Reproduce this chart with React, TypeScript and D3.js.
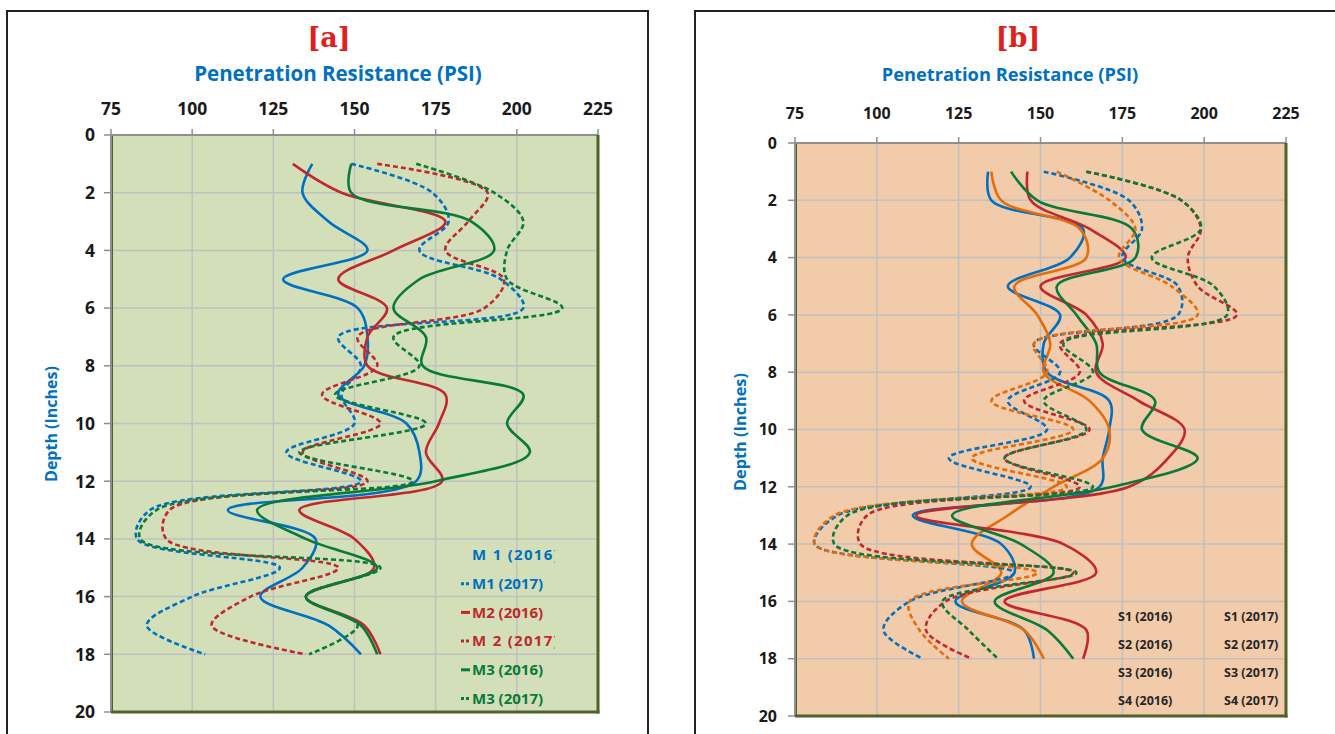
import React from 'react';
import * as d3 from 'd3';

// depth in inches, one reading per inch
const depths = [1, 2, 3, 4, 5, 6, 7, 8, 9, 10, 11, 12, 13, 14, 15, 16, 17, 18];
const xTicks = [75, 100, 125, 150, 175, 200, 225];
const yTicks = [0, 2, 4, 6, 8, 10, 12, 14, 16, 18, 20];

// panel [a]
const m1_2016 = [137, 134, 142, 154, 128, 151, 154, 153, 145, 166, 170, 169, 111, 138, 134, 121, 142, 152];
const m1_2017 = [149, 174, 179, 170, 195, 202, 145, 152, 146, 150, 129, 152, 87, 83, 127, 100, 86, 104];
const m2_2016 = [131, 146, 178, 162, 145, 160, 154, 154, 178, 176, 172, 177, 133, 150, 156, 135, 153, 158];
const m2_2017 = [157, 191, 185, 178, 196, 190, 151, 157, 140, 158, 134, 154, 93, 92, 145, 118, 106, 135];
const m3_2016 = [149, 149, 186, 193, 170, 162, 172, 171, 202, 197, 204, 175, 120, 135, 157, 135, 152, 157];
const m3_2017 = [169, 193, 202, 197, 197, 214, 162, 170, 144, 172, 133, 168, 89, 84, 158, 135, 151, 136];

// panel [b]
const s1_2016 = [134, 135, 163, 159, 140, 156, 151, 152, 171, 171, 169, 168, 111, 138, 142, 124, 145, 148];
const s2_2016 = [135, 138, 162, 164, 142, 149, 153, 151, 165, 171, 169, 154, 140, 129, 138, 126, 145, 151];
const s3_2016 = [146, 147, 165, 176, 150, 164, 169, 167, 180, 194, 189, 177, 112, 157, 167, 139, 164, 163];
const s4_2016 = [141, 149, 178, 179, 155, 161, 167, 168, 185, 181, 198, 172, 123, 144, 154, 136, 152, 160];
const s1_2017 = [151, 177, 181, 175, 192, 192, 148, 156, 140, 152, 122, 147, 88, 81, 142, 110, 102, 114];
const s2_2017 = [155, 171, 179, 174, 190, 198, 148, 152, 135, 160, 129, 158, 87, 81, 149, 110, 113, 122];
const s3_2017 = [164, 193, 199, 195, 198, 210, 156, 162, 145, 165, 139, 162, 97, 95, 160, 121, 115, 129];
const s4_2017 = [164, 193, 199, 184, 203, 207, 157, 166, 151, 164, 139, 166, 91, 87, 161, 120, 128, 137];

const legendA = ['M 1 (2016)', 'M1 (2017)', 'M2 (2016)', 'M 2 (2017)', 'M3 (2016)', 'M3 (2017)'];
const legendB2016 = ['S1 (2016)', 'S2 (2016)', 'S3 (2016)', 'S4 (2016)'];
const legendB2017 = ['S1 (2017)', 'S2 (2017)', 'S3 (2017)', 'S4 (2017)'];

const BLUE = '#0070c0';
const RED = '#c0282d';
const GREEN = '#0a7a38';
const ORANGE = '#e46c0a';
const FONT = '"Open Sans", Lato, sans-serif';

type Series = { values: number[]; color: string; dashed: boolean };

const seriesA: Series[] = [
  { values: m1_2016, color: BLUE, dashed: false },
  { values: m1_2017, color: BLUE, dashed: true },
  { values: m2_2016, color: RED, dashed: false },
  { values: m2_2017, color: RED, dashed: true },
  { values: m3_2016, color: GREEN, dashed: false },
  { values: m3_2017, color: GREEN, dashed: true },
];

const seriesB: Series[] = [
  { values: s1_2016, color: BLUE, dashed: false },
  { values: s2_2016, color: ORANGE, dashed: false },
  { values: s3_2016, color: RED, dashed: false },
  { values: s4_2016, color: GREEN, dashed: false },
  { values: s1_2017, color: BLUE, dashed: true },
  { values: s2_2017, color: ORANGE, dashed: true },
  { values: s3_2017, color: RED, dashed: true },
  { values: s4_2017, color: GREEN, dashed: true },
];

type PanelProps = {
  left: number; right: number; top: number; bottom: number;
  frameX: number; frameW: number;
  label: string; labelX: number;
  titleX: number; titleSize: number;
  yTitleX: number; yTitleY: number; yTitleSize: number;
  tickLabelY: number; tickSize: number; tickGap: number;
  bg: string;
  series: Series[];
  children?: React.ReactNode;
};

const Panel = (p: PanelProps) => {
  const x = d3.scaleLinear().domain([75, 225]).range([p.left, p.right]);
  const y = d3.scaleLinear().domain([0, 20]).range([p.top, p.bottom]);

  const line = d3.line<number>()
    .x(d => x(d))
    .y((d, i) => y(depths[i]))
    .curve(d3.curveCatmullRom.alpha(0.5));

  return (
    <g>
      <rect x={p.frameX} y={11} width={p.frameW} height={740} fill="#fff" stroke="#222" strokeWidth={2} />
      <text x={p.labelX} y={47} textAnchor="middle" fill="#e0201b" fontFamily='"DejaVu Serif", serif'
        fontWeight="bold" fontSize={27}>{p.label}</text>
      <text x={p.titleX} y={81} textAnchor="middle" fill={BLUE} fontFamily={FONT} fontWeight="bold"
        fontSize={p.titleSize}>Penetration Resistance (PSI)</text>
      <text transform={`translate(${p.yTitleX},${p.yTitleY}) rotate(-90)`} textAnchor="middle" fill={BLUE}
        fontFamily={FONT} fontWeight="bold" fontSize={p.yTitleSize}>Depth (Inches)</text>

      <rect x={p.left} y={p.top} width={p.right - p.left} height={p.bottom - p.top} fill={p.bg} />
      {xTicks.slice(1, -1).map(t => (
        <line key={'gx' + t} x1={x(t)} x2={x(t)} y1={p.top} y2={p.bottom} stroke="#c0c0c0" strokeWidth={1.5} />
      ))}
      {yTicks.slice(1, -1).map(t => (
        <line key={'gy' + t} x1={p.left} x2={p.right} y1={y(t)} y2={y(t)} stroke="#c0c0c0" strokeWidth={1.5} />
      ))}

      {p.series.map((s, i) => (
        <path key={i} d={line(s.values) || ''} fill="none" stroke={s.color} strokeWidth={2.6}
          strokeDasharray={s.dashed ? '5,3' : undefined} strokeLinecap="butt" />
      ))}

      {/* axes */}
      <line x1={p.left} x2={p.right} y1={p.top} y2={p.top} stroke="#8c9090" strokeWidth={2} />
      <line x1={p.left} x2={p.left} y1={p.top} y2={p.bottom} stroke="#8c9090" strokeWidth={2} />
      <line x1={p.left + 1.5} x2={p.left + 1.5} y1={p.top + 1} y2={p.bottom} stroke="#4f6228" strokeWidth={1} />
      <line x1={p.right} x2={p.right} y1={p.top} y2={p.bottom + 1.5} stroke="#4f6228" strokeWidth={3} />
      <line x1={p.left} x2={p.right + 1.5} y1={p.bottom} y2={p.bottom} stroke="#4f6228" strokeWidth={3} />
      {xTicks.map(t => (
        <g key={'tx' + t}>
          <line x1={x(t)} x2={x(t)} y1={p.top} y2={p.top - 6} stroke="#8c9090" strokeWidth={1.5} />
          <text x={x(t)} y={p.tickLabelY} textAnchor="middle" fontFamily={FONT} fontWeight="bold"
            fontSize={p.tickSize} fill="#1a1a1a">{t}</text>
        </g>
      ))}
      {yTicks.map(t => (
        <g key={'ty' + t}>
          <line x1={p.left} x2={p.left - 7} y1={y(t)} y2={y(t)} stroke="#8c9090" strokeWidth={1.5} />
          <text x={p.left - p.tickGap} y={y(t)} dy="0.36em" textAnchor="end" fontFamily={FONT} fontWeight="bold"
            fontSize={p.tickSize} fill="#1a1a1a">{t}</text>
        </g>
      ))}
      {p.children}
    </g>
  );
};

export default function App() {
  const legendColorsA = [BLUE, BLUE, RED, RED, GREEN, GREEN];
  const legendRowsA = d3.range(legendA.length).map(i => 555 + i * 28.7);
  const legendRowsB = d3.range(legendB2016.length).map(i => 617 + i * 28);

  return (
    <div style={{ position: 'fixed', left: 0, top: 0 }}>
      <svg width={1335} height={734} style={{ display: 'block', background: '#fff' }}>
        <defs>
          <clipPath id="legclip">
            <rect x={455} y={540} width={100} height={180} />
          </clipPath>
        </defs>
        <Panel left={111} right={598} top={135} bottom={712} frameX={7} frameW={641}
          label="[a]" labelX={329} titleX={338} titleSize={20.5}
          yTitleX={57} yTitleY={424} yTitleSize={16}
          tickLabelY={115} tickSize={17.5} tickGap={16}
          bg="#d3dfb9" series={seriesA}>
          <g clipPath="url(#legclip)">
            {legendA.map((t, i) => {
              const spaced = t.includes(' 1 ') || t.includes(' 2 ');
              return (
                <g key={t}>
                  {i > 0 && (
                    <line x1={461} x2={470} y1={legendRowsA[i]} y2={legendRowsA[i]} stroke={legendColorsA[i]}
                      strokeWidth={3} strokeDasharray={i % 2 === 1 ? '3,2' : undefined} />
                  )}
                  <text x={472} y={legendRowsA[i]} dy="0.35em" fill={legendColorsA[i]} fontFamily={FONT}
                    fontWeight="bold" fontSize={15} letterSpacing={spaced ? 1.3 : 0}>{t}</text>
                </g>
              );
            })}
          </g>
        </Panel>
        <Panel left={795} right={1286} top={143} bottom={716} frameX={695} frameW={660}
          label="[b]" labelX={1018} titleX={1010} titleSize={18.3}
          yTitleX={746} yTitleY={432} yTitleSize={16.3}
          tickLabelY={119} tickSize={16} tickGap={18}
          bg="#f2cbab" series={seriesB}>
          {legendB2016.map((t, i) => (
            <g key={t}>
              <text x={1118} y={legendRowsB[i]} dy="0.35em" fill="#262626" fontFamily={FONT}
                fontWeight="bold" fontSize={12.5}>{t}</text>
              <text x={1224} y={legendRowsB[i]} dy="0.35em" fill="#262626" fontFamily={FONT}
                fontWeight="bold" fontSize={12.5}>{legendB2017[i]}</text>
            </g>
          ))}
        </Panel>
      </svg>
    </div>
  );
}
